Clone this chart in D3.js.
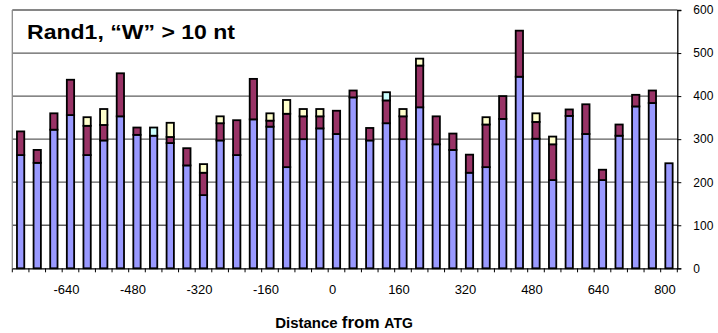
<!DOCTYPE html>
<html>
<head>
<meta charset="utf-8">
<script src="https://cdn.jsdelivr.net/npm/d3@7"></script>
<style>
  html, body { margin: 0; padding: 0; background: #fff; }
  svg { display: block; font-family: "Liberation Sans", Arial, sans-serif; }
</style>
</head>
<body>
<svg id="chart" width="718" height="333"></svg>
<script>
// Distance from ATG (nt), one bin every 40 nt
const positions = [-760, -720, -680, -640, -600, -560, -520, -480, -440, -400,
                   -360, -320, -280, -240, -200, -160, -120, -80, -40, 0,
                   40, 80, 120, 160, 200, 240, 280, 320, 360, 400,
                   440, 480, 520, 560, 600, 640, 680, 720, 760, 800];

// stacked series (counts per bin)
const seriesBlue = [263, 245, 322, 356, 263, 297, 353, 310, 308, 291,
                    239, 170, 297, 263, 346, 329, 235, 300, 325, 312,
                    397, 297, 337, 300, 374, 288, 275, 222, 235, 347,
                    445, 301, 205, 354, 312, 205, 308, 376, 384, 244];
const seriesMaroon = [55, 30, 38, 82, 68, 36, 100, 17, 0, 14,
                      40, 52, 40, 81, 94, 14, 124, 53, 28, 54,
                      16, 29, 53, 53, 97, 65, 38, 42, 99, 53,
                      107, 39, 83, 15, 69, 24, 26, 27, 29, 0];
const seriesYellow = [0, 0, 0, 0, 20, 37, 0, 0, 0, 33,
                      0, 20, 16, 0, 0, 17, 32, 17, 17, 0,
                      0, 0, 0, 17, 16, 0, 0, 0, 17, 0,
                      0, 20, 18, 0, 0, 0, 0, 0, 0, 0];
const seriesCyan = [0, 0, 0, 0, 0, 0, 0, 0, 19, 0,
                    0, 0, 0, 0, 0, 0, 0, 0, 0, 0,
                    0, 0, 19, 0, 0, 0, 0, 0, 0, 0,
                    0, 0, 0, 0, 0, 0, 0, 0, 0, 0];

const yTicks = [0, 100, 200, 300, 400, 500, 600];
const xLabels = [-640, -480, -320, -160, 0, 160, 320, 480, 640, 800];

const title = "Rand1, \u201CW\u201D > 10 nt";

const keys = ["blue", "maroon", "yellow", "cyan"];
const colors = { blue: "#9999FF", maroon: "#993366", yellow: "#FFFFCC", cyan: "#CCFFFF" };

const rows = positions.map((p, i) => ({
  pos: p,
  blue: seriesBlue[i],
  maroon: seriesMaroon[i],
  yellow: seriesYellow[i],
  cyan: seriesCyan[i]
}));

const svg = d3.select("#chart");
const plot = { left: 12.3, right: 677.3, top: 10, bottom: 268.3 };

const x = d3.scaleBand()
  .domain(positions)
  .range([plot.left, plot.right])
  .paddingInner(0.56)
  .paddingOuter(0.28);

const y = d3.scaleLinear().domain([0, 600]).range([plot.bottom, plot.top]);

// horizontal gridlines
svg.append("g")
  .selectAll("line")
  .data(yTicks.filter(t => t > 0))
  .join("line")
  .attr("x1", plot.left).attr("x2", plot.right)
  .attr("y1", d => y(d)).attr("y2", d => y(d))
  .attr("stroke", "#5e5e5e")
  .attr("stroke-width", 1.3);

// left border of the plot area
svg.append("line")
  .attr("x1", plot.left).attr("x2", plot.left)
  .attr("y1", plot.top).attr("y2", plot.bottom)
  .attr("stroke", "#8a8a8a").attr("stroke-width", 1.3);

// stacked bars
const stacked = d3.stack().keys(keys)(rows);
svg.append("g")
  .selectAll("g")
  .data(stacked)
  .join("g")
  .attr("fill", d => colors[d.key])
  .selectAll("rect")
  .data(d => d.filter(s => s[1] - s[0] > 0))
  .join("rect")
  .attr("x", d => x(d.data.pos))
  .attr("width", x.bandwidth())
  .attr("y", d => y(d[1]))
  .attr("height", d => y(d[0]) - y(d[1]))
  .attr("stroke", "#000")
  .attr("stroke-width", 1.8);

// right value axis
const yAxis = d3.axisRight(y)
  .tickValues(yTicks)
  .tickSize(4)
  .tickPadding(12)
  .tickFormat(d3.format("d"));
const gy = svg.append("g")
  .attr("transform", `translate(${plot.right},0)`)
  .call(yAxis);
gy.select(".domain").attr("stroke", "#000").attr("stroke-width", 1.3);
gy.selectAll(".tick line").attr("stroke", "#000");
gy.selectAll(".tick text")
  .attr("font-size", 12)
  .attr("fill", "#000")
  .attr("font-family", "Liberation Sans, Arial, sans-serif");

// category axis at the bottom
const xAxis = d3.axisBottom(x)
  .tickValues(xLabels)
  .tickSize(0)
  .tickPadding(16)
  .tickFormat(d => d);
const gx = svg.append("g")
  .attr("transform", `translate(0,${plot.bottom})`)
  .call(xAxis);
gx.select(".domain").attr("stroke", "#000").attr("stroke-width", 1.3);
gx.selectAll(".tick text")
  .attr("font-size", 13)
  .attr("dx", -4)
  .attr("fill", "#000")
  .attr("font-family", "Liberation Sans, Arial, sans-serif");

// tick marks between categories
const boundaries = positions.map(p => x(p) - x.step() * x.paddingInner() / 2)
  .concat([plot.right]);
svg.append("g")
  .selectAll("line")
  .data(boundaries)
  .join("line")
  .attr("x1", d => d).attr("x2", d => d)
  .attr("y1", plot.bottom).attr("y2", plot.bottom + 4)
  .attr("stroke", "#000").attr("stroke-width", 1);

// chart title
svg.append("text")
  .attr("x", 27).attr("y", 39)
  .attr("font-size", 20)
  .attr("font-weight", "bold")
  .attr("textLength", 208)
  .attr("lengthAdjust", "spacingAndGlyphs")
  .text(title);

// axis title
const at = svg.append("text")
  .attr("x", 344).attr("y", 328)
  .attr("text-anchor", "middle")
  .attr("font-weight", "bold");
at.append("tspan").attr("font-size", 15).text("Distance ");
at.append("tspan").attr("font-size", 17).text("from ");
at.append("tspan").attr("font-size", 14).text("ATG");
</script>
</body>
</html>
